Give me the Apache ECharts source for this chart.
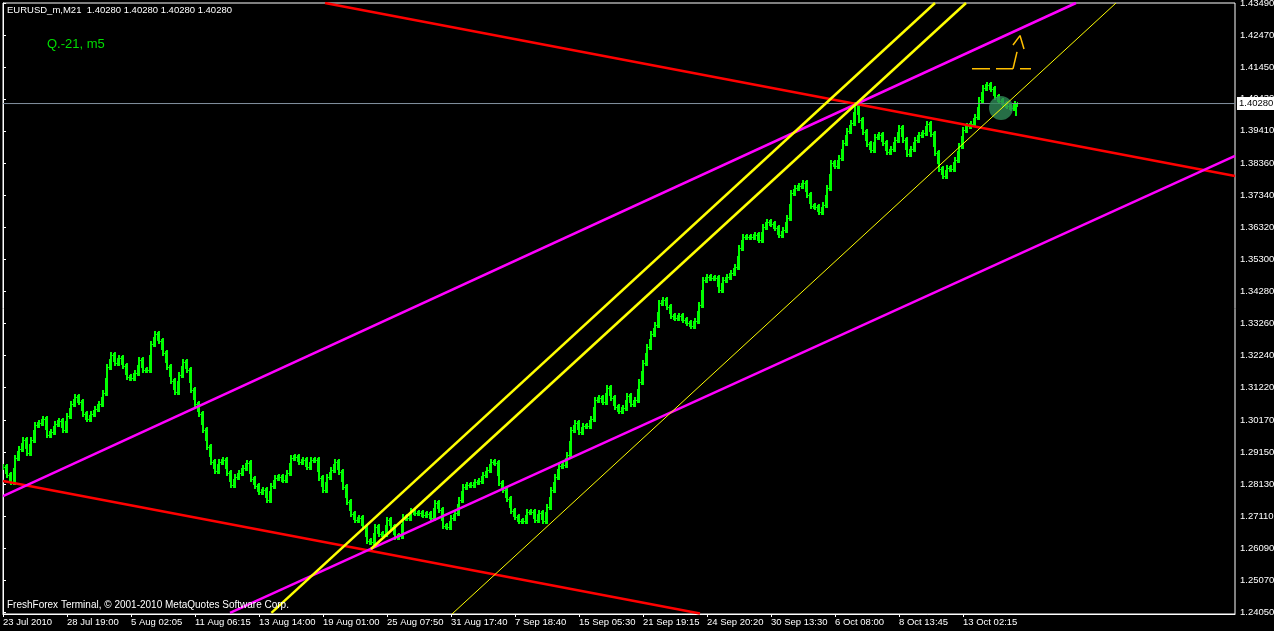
<!DOCTYPE html>
<html>
<head>
<meta charset="utf-8">
<script src="https://cdn.jsdelivr.net/npm/echarts@6/dist/echarts.min.js"></script>
<style>
html,body{margin:0;padding:0;background:#000;}
#c{width:1274px;height:631px;}
</style>
</head>
<body>
<div id="c"></div>
<script>
// ---- data ----
const tickLabels = ['23 Jul 2010','28 Jul 19:00','5 Aug 02:05','11 Aug 06:15','13 Aug 14:00','19 Aug 01:00','25 Aug 07:50','31 Aug 17:40','7 Sep 18:40','15 Sep 05:30','21 Sep 19:15','24 Sep 20:20','30 Sep 13:30','6 Oct 08:00','8 Oct 13:45','13 Oct 02:15'];
const tickBars = [0,16,32,48,64,80,96,112,128,144,160,176,192,208,224,240];
const priceTicks = [1.4349,1.4247,1.4145,1.4043,1.3941,1.3836,1.3734,1.3632,1.3530,1.3428,1.3326,1.3224,1.3122,1.3017,1.2915,1.2813,1.2711,1.2609,1.2507,1.2405];
const closes = [
1.2868,1.2842,1.2820,1.2897,1.2925,1.2954,1.2913,1.2954,1.3002,1.3008,
1.3021,1.2970,1.2980,1.3005,1.3015,1.2986,1.3031,1.3069,1.3091,1.3075,
1.3037,1.3021,1.3037,1.3053,1.3069,1.3104,1.3187,1.3225,1.3200,1.3216,
1.3190,1.3155,1.3152,1.3168,1.3209,1.3177,1.3177,1.3260,1.3292,1.3270,
1.3232,1.3187,1.3142,1.3107,1.3162,1.3203,1.3177,1.3114,1.3069,1.3037,
1.2986,1.2932,1.2884,1.2855,1.2884,1.2890,1.2849,1.2810,1.2836,1.2849,
1.2865,1.2881,1.2830,1.2807,1.2788,1.2794,1.2763,1.2807,1.2833,1.2836,
1.2826,1.2849,1.2897,1.2900,1.2884,1.2890,1.2868,1.2890,1.2890,1.2833,
1.2794,1.2836,1.2858,1.2884,1.2852,1.2804,1.2756,1.2718,1.2699,1.2705,
1.2676,1.2632,1.2628,1.2676,1.2654,1.2654,1.2699,1.2676,1.2644,1.2648,
1.2708,1.2705,1.2727,1.2721,1.2721,1.2715,1.2718,1.2705,1.2753,1.2731,
1.2680,1.2676,1.2705,1.2721,1.2763,1.2804,1.2810,1.2810,1.2820,1.2823,
1.2842,1.2858,1.2884,1.2881,1.2817,1.2794,1.2766,1.2727,1.2708,1.2695,
1.2695,1.2724,1.2724,1.2699,1.2721,1.2695,1.2740,1.2794,1.2836,1.2871,
1.2874,1.2906,1.2986,1.3008,1.2980,1.2999,1.2999,1.3021,1.3082,1.3088,
1.3075,1.3120,1.3088,1.3059,1.3047,1.3056,1.3094,1.3069,1.3082,1.3139,
1.3200,1.3251,1.3292,1.3321,1.3391,1.3401,1.3379,1.3350,1.3343,1.3350,
1.3337,1.3328,1.3318,1.3334,1.3385,1.3465,1.3474,1.3471,1.3471,1.3433,
1.3465,1.3474,1.3487,1.3506,1.3567,1.3602,1.3602,1.3602,1.3608,1.3592,
1.3634,1.3650,1.3644,1.3631,1.3608,1.3624,1.3663,1.3742,1.3758,1.3765,
1.3774,1.3736,1.3701,1.3698,1.3682,1.3704,1.3758,1.3838,1.3829,1.3854,
1.3902,1.3940,1.3966,1.4023,1.3976,1.3937,1.3899,1.3880,1.3921,1.3928,
1.3902,1.3873,1.3883,1.3912,1.3950,1.3912,1.3867,1.3883,1.3912,1.3928,
1.3934,1.3963,1.3931,1.3870,1.3819,1.3797,1.3822,1.3819,1.3848,1.3893,
1.3944,1.3956,1.3963,1.3985,1.4039,1.4078,1.4087,1.4074,1.4049,1.4036,
1.4027,1.4020,1.4014,1.4028
];
const lastBar = {bar: 253.25, high: 1.4030, low: 1.3988};
const currentPrice = 1.4028;
// trend lines: [bar, price] end points
const redUpper = [[80.5, 1.4349], [308, 1.3797]];
const redLower = [[0, 1.2823], [174.25, 1.2400]];
const magentaUpper = [[0, 1.2775], [268.25, 1.4349]];
const magentaLower = [[56.75, 1.2402], [308, 1.3861]];
const yellowA = [[67.1, 1.2402], [233, 1.4349]];
const yellowB = [[92, 1.2606], [240.75, 1.4349]];
const yellowThin = [[112.25, 1.23986], [278.25, 1.4349]];
const circlePoint = [249.5, 1.4014];
const arrowDashes = [
  [[242.25, 1.4139], [246.75, 1.4139]],
  [[248.25, 1.4139], [252.5, 1.4139]],
  [[254.25, 1.4139], [257, 1.4139]],
  [[252.5, 1.4139], [253.5, 1.4193]],
  [[252.5, 1.4215], [254.25, 1.4245], [255.25, 1.4202]]
];

// ---- chart ----
const FONT = "'Liberation Sans',Arial,sans-serif";
const LIME = '#00ff00';
const chart = echarts.init(document.getElementById('c'), null, {renderer: 'canvas'});

function lineSeries(pts, color, width, z) {
  return {type: 'line', data: pts, symbol: 'none', silent: true, animation: false, z: z,
    lineStyle: {color: color, width: width}, clip: true};
}

// price drawn as MT4-style bars
const barData = closes.map((v, i) => [i, v, i > 0 ? closes[i - 1] : v, i < closes.length - 1 ? closes[i + 1] : v]);
const priceSeries = {
  type: 'custom', name: 'EURUSD', data: barData, silent: true, animation: false, z: 2, clip: true,
  itemStyle: {color: LIME},
  encode: {x: 0, y: 1},
  renderItem: function (params, api) {
    const x = api.value(0), c = api.value(1), o = api.value(2), n = api.value(3);
    const yc = Math.round(api.coord([x, c])[1]);
    const yo = Math.round(api.coord([x, o])[1]);
    const ym = Math.round(api.coord([x, (c + n) / 2])[1]);
    const px = Math.round(api.coord([x, c])[0]);
    const a1 = Math.min(yc, yo) - 3, a2 = Math.max(yc, yo) + 3;
    const b1 = Math.min(yc, ym) - 2, b2 = Math.max(yc, ym) + 3;
    const st = {fill: LIME, stroke: null, opacity: 1};
    return {type: 'group', children: [
      {type: 'rect', shape: {x: px - 1, y: a1, width: 2, height: a2 - a1}, style: st},
      {type: 'rect', shape: {x: px + 1, y: yc, width: 1, height: 1}, style: st},
      {type: 'rect', shape: {x: px + 2, y: b1, width: 1, height: b2 - b1}, style: st}
    ]};
  }
};

const series = [
  priceSeries,
  lineSeries([[lastBar.bar, lastBar.high], [lastBar.bar, lastBar.low]], LIME, 2, 2),
  {type: 'line', data: [[0, currentPrice], [308, currentPrice]], symbol: 'none', silent: true, animation: false, z: 2,
   lineStyle: {color: '#8492a0', width: 1}, clip: false,
   endLabel: {show: true, distance: 2, formatter: () => currentPrice.toFixed(5),
     color: '#000', backgroundColor: '#fff', fontFamily: FONT, fontSize: 9.5, padding: [2, 2, 1, 2]}},
  lineSeries(redUpper, '#ff0000', 2.5, 3),
  lineSeries(redLower, '#ff0000', 2.5, 3),
  lineSeries(magentaUpper, '#ff00ff', 2.5, 3),
  lineSeries(magentaLower, '#ff00ff', 2.5, 3),
  lineSeries(yellowA, '#ffff00', 2.5, 3),
  lineSeries(yellowB, '#ffff00', 2.5, 3),
  {type: 'scatter', data: [circlePoint], symbol: 'circle', symbolSize: 24, silent: true, animation: false, z: 4,
   itemStyle: {color: '#2f8a58'}},
  lineSeries(yellowThin, '#ffff00', 1, 5)
];
arrowDashes.forEach(seg => series.push(lineSeries(seg, '#ffc000', 1.5, 5)));

chart.setOption({
  backgroundColor: '#000',
  animation: false,
  grid: {left: 3, top: 3, right: 39, bottom: 17, show: true, borderColor: '#fff', borderWidth: 1,
         backgroundColor: 'transparent', outerBoundsMode: 'none', containLabel: false},
  xAxis: {
    type: 'value', min: 0, max: 308,
    splitLine: {show: false},
    axisLine: {show: true, lineStyle: {color: '#fff', width: 1}},
    axisTick: {show: true, length: 3, lineStyle: {color: '#fff'}, customValues: tickBars},
    axisLabel: {show: true, customValues: tickBars, color: '#fff', fontFamily: FONT, fontSize: 9.5, align: 'left', margin: 3,
      formatter: (v) => { const k = tickBars.indexOf(Math.round(v)); return k >= 0 ? tickLabels[k] : ''; }}
  },
  yAxis: {
    type: 'value', position: 'right', min: 1.23986, max: 1.4349,
    splitLine: {show: false},
    axisLine: {show: true, lineStyle: {color: '#fff', width: 1}},
    axisTick: {show: true, length: 3, lineStyle: {color: '#fff'}, customValues: priceTicks},
    axisLabel: {show: true, customValues: priceTicks, color: '#fff', fontFamily: FONT, fontSize: 9.5, margin: 5,
      formatter: (v) => v.toFixed(5)}
  },
  graphic: [
    {type: 'text', left: 7, top: 5, z: 10, style: {text: 'EURUSD_m,M21  1.40280 1.40280 1.40280 1.40280', fill: '#fff', font: "9.5px " + FONT}},
    {type: 'text', left: 47, top: 38, z: 10, style: {text: 'Q.-21, m5', fill: '#00dd00', font: "13px " + FONT}},
    {type: 'text', left: 7, top: 600, z: 10, style: {text: 'FreshForex Terminal, \u00a9 2001-2010 MetaQuotes Software Corp.', fill: '#fff', font: "10px " + FONT}}
  ],
  series: series
});
</script>
</body>
</html>
